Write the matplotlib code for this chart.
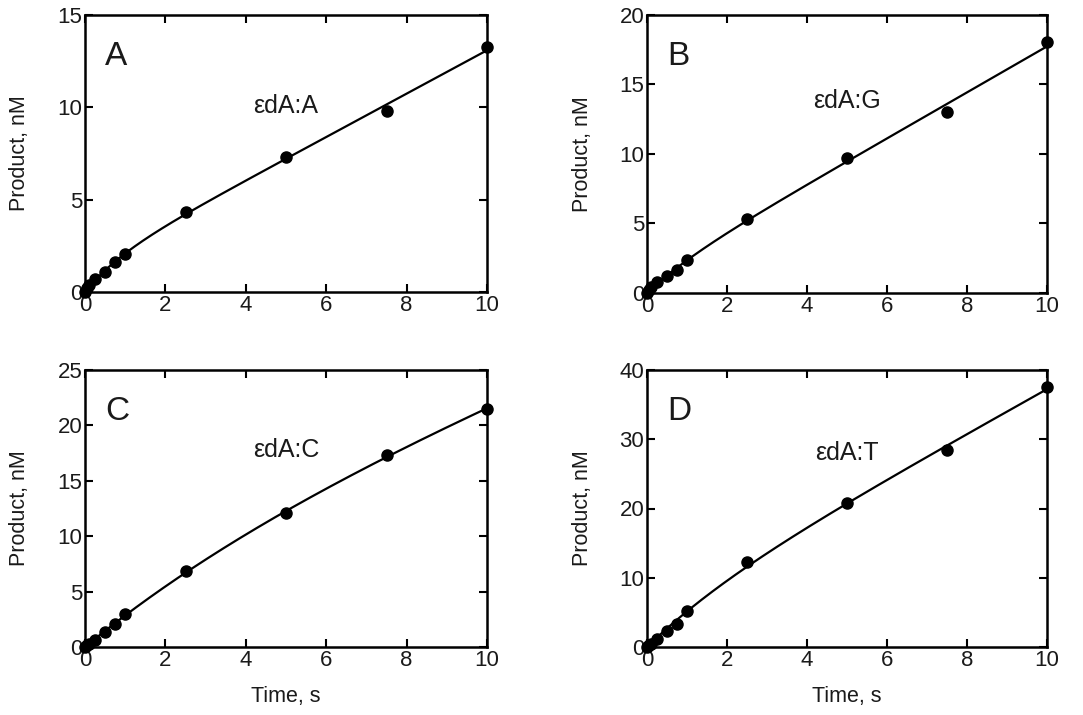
import numpy as np
import matplotlib
matplotlib.use("Agg")
import matplotlib.pyplot as plt

plt.rcParams['font.family'] = ['Liberation Sans', 'DejaVu Sans']

# time points (s) shared by all four panels
time_s = [0, 0.05, 0.1, 0.25, 0.5, 0.75, 1.0, 2.5, 5.0, 7.5, 10.0]

product_A = [0, 0.2, 0.4, 0.68, 1.08, 1.6, 2.07, 4.34, 7.29, 9.8, 13.29]
product_G = [0, 0.2, 0.4, 0.79, 1.2, 1.62, 2.35, 5.35, 9.68, 13.04, 18.03]
product_C = [0, 0.15, 0.3, 0.6, 1.36, 2.05, 3.01, 6.84, 12.05, 17.3, 21.5]
product_T = [0, 0.25, 0.5, 1.2, 2.3, 3.37, 5.2, 12.3, 20.8, 28.4, 37.6]

panel_letters = ['A', 'B', 'C', 'D']
pair_labels   = ['εdA:A', 'εdA:G', 'εdA:C', 'εdA:T']
series        = [product_A, product_G, product_C, product_T]
y_max         = [15, 20, 25, 40]
y_step        = [5, 5, 5, 10]
label_y       = [0.67, 0.69, 0.71, 0.70]

# axes boxes in pixels: left, right, top, bottom
W, H = 1083, 715
boxes = [(85, 487, 15, 292), (647, 1047, 15, 293),
         (85, 487, 370, 647), (647, 1047, 370, 647)]


def burst_fit(t, y):
    # y = amp * (1 - exp(-k t)) + v t, grid over k, linear least squares for amp, v
    t = np.asarray(t, float)
    y = np.asarray(y, float)
    best = None
    for k in np.logspace(-2, 1.5, 400):
        X = np.column_stack([1 - np.exp(-k * t), t])
        coef, *_ = np.linalg.lstsq(X, y, rcond=None)
        err = np.sum((X @ coef - y) ** 2)
        if best is None or err < best[0]:
            best = (err, k, coef)
    _, k, (amp, v) = best
    tt = np.linspace(0, t.max(), 300)
    return tt, amp * (1 - np.exp(-k * tt)) + v * tt


fig = plt.figure(figsize=(W / 100, H / 100), dpi=100)
txt = '#1a1a1a'

for i, (l, r, top, bot) in enumerate(boxes):
    ax = fig.add_axes([l / W, 1 - bot / H, (r - l) / W, (bot - top) / H])
    y = series[i]
    tt, yy = burst_fit(time_s, y)
    ax.plot(tt, yy, color='black', lw=1.6, clip_on=False, zorder=3)
    ax.plot(time_s, y, 'o', color='black', ms=8, clip_on=False, zorder=4)

    ax.set_xlim(0, 10)
    ax.set_ylim(0, y_max[i])
    ax.set_xticks(np.arange(0, 11, 2))
    ax.set_yticks(np.arange(0, y_max[i] + 1, y_step[i]))
    ax.tick_params(direction='in', length=6, width=1.5, top=True, right=True,
                   labelsize=16, pad=2, labelcolor=txt)
    for sp in ax.spines.values():
        sp.set_linewidth(1.8)

    ax.set_ylabel('Product, nM', fontsize=15.5, color=txt, va='center')
    ax.yaxis.set_label_coords(-0.162, 0.5)
    if i >= 2:
        ax.set_xlabel('Time, s', fontsize=15.5, color=txt, va='center')
        ax.xaxis.set_label_coords(0.5, -0.18)

    ax.text(0.05, 0.85, panel_letters[i], transform=ax.transAxes,
            fontsize=24, ha='left', va='center', color=txt)
    ax.text(0.5, label_y[i], pair_labels[i], transform=ax.transAxes,
            fontsize=18, ha='center', va='center', color=txt)

fig.savefig('out.png', dpi=100)
